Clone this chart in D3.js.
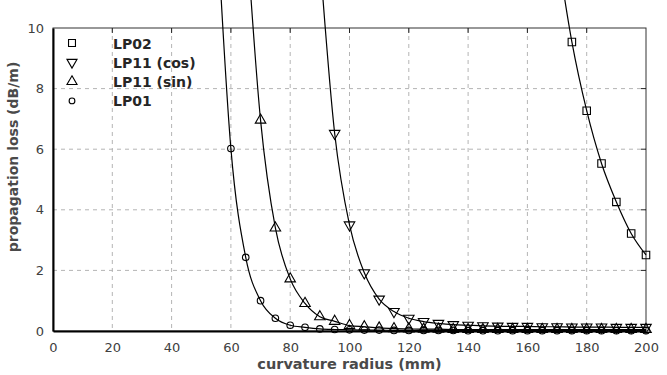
<!DOCTYPE html>
<html>
<head>
<meta charset="utf-8">
<script src="https://cdn.jsdelivr.net/npm/d3@7"></script>
<style>
  body { margin: 0; background: #fff; }
  svg { display: block; }
</style>
</head>
<body>
<div id="chart"></div>
<script>
// data ---------------------------------------------------------------------------------------
const radiusLP02 = [170, 175, 180, 185, 190, 195, 200];
const lossLP02 = [12.6, 9.54, 7.27, 5.53, 4.26, 3.22, 2.51];

const radiusLP11cos = [90, 95, 100, 105, 110, 115, 120, 125, 130, 135, 140, 145, 150, 155, 160, 165, 170, 175, 180, 185, 190, 195, 200];
const lossLP11cos = [12.3, 6.52, 3.50, 1.92, 1.05, 0.64, 0.42, 0.31, 0.25, 0.21, 0.19, 0.17, 0.16, 0.15, 0.15, 0.14, 0.14, 0.13, 0.13, 0.13, 0.12, 0.12, 0.12];

const radiusLP11sin = [65, 70, 75, 80, 85, 90, 95, 100, 105, 110, 115, 120, 125, 130, 135, 140, 145, 150, 155, 160, 165, 170, 175, 180, 185, 190, 195, 200];
const lossLP11sin = [13.5, 6.96, 3.40, 1.72, 0.91, 0.47, 0.32, 0.18, 0.14, 0.10, 0.08, 0.07, 0.06, 0.06, 0.05, 0.05, 0.05, 0.05, 0.05, 0.05, 0.05, 0.05, 0.05, 0.05, 0.05, 0.05, 0.05, 0.05];

const radiusLP01 = [55, 60, 65, 70, 75, 80, 85, 90, 95, 100, 105, 110, 115, 120, 125, 130, 135, 140, 145, 150, 155, 160, 165, 170, 175, 180, 185, 190, 195, 200];
const lossLP01 = [14.0, 6.02, 2.43, 1.00, 0.42, 0.19, 0.12, 0.07, 0.05, 0.04, 0.03, 0.03, 0.02, 0.02, 0.02, 0.02, 0.02, 0.01, 0.01, 0.01, 0.01, 0.01, 0.01, 0.01, 0.01, 0.01, 0.01, 0.01, 0.01, 0.01];

const seriesNames = ['LP02', 'LP11 (cos)', 'LP11 (sin)', 'LP01'];
const seriesMarkers = ['square', 'triDown', 'triUp', 'circle'];
const xTicks = [0, 20, 40, 60, 80, 100, 120, 140, 160, 180, 200];
const yTicks = [0, 2, 4, 6, 8, 10];

// build series -------------------------------------------------------------------------------
const series = [
  { name: seriesNames[0], marker: seriesMarkers[0], pts: radiusLP02.map((r, i) => ({ x: r, y: lossLP02[i] })) },
  { name: seriesNames[1], marker: seriesMarkers[1], pts: radiusLP11cos.map((r, i) => ({ x: r, y: lossLP11cos[i] })) },
  { name: seriesNames[2], marker: seriesMarkers[2], pts: radiusLP11sin.map((r, i) => ({ x: r, y: lossLP11sin[i] })) },
  { name: seriesNames[3], marker: seriesMarkers[3], pts: radiusLP01.map((r, i) => ({ x: r, y: lossLP01[i] })) }
];

// layout -------------------------------------------------------------------------------------
const width = 667;
const height = 375;
const margin = { top: 28, right: 21, bottom: 44, left: 53 };
const innerW = width - margin.left - margin.right;
const innerH = height - margin.top - margin.bottom;

const x = d3.scaleLinear().domain([0, 200]).range([0, innerW]);
const y = d3.scaleLinear().domain([0, 10]).range([innerH, 0]);

const svg = d3.select('#chart').append('svg')
  .attr('width', width)
  .attr('height', height);

const g = svg.append('g')
  .attr('transform', 'translate(' + margin.left + ',' + margin.top + ')');

// grid ---------------------------------------------------------------------------------------
g.append('g')
  .selectAll('line')
  .data(xTicks.slice(1, -1))
  .enter().append('line')
  .attr('x1', d => x(d)).attr('x2', d => x(d))
  .attr('y1', 0).attr('y2', innerH)
  .attr('stroke', '#b4b4b4')
  .attr('stroke-dasharray', '4,4');
g.append('g')
  .selectAll('line')
  .data(yTicks.slice(1, -1))
  .enter().append('line')
  .attr('x1', 0).attr('x2', innerW)
  .attr('y1', d => y(d)).attr('y2', d => y(d))
  .attr('stroke', '#b4b4b4')
  .attr('stroke-dasharray', '4,4');

// frame + axes -------------------------------------------------------------------------------
g.append('rect')
  .attr('width', innerW).attr('height', innerH)
  .attr('fill', 'none')
  .attr('stroke', '#333')
  .attr('stroke-width', 1);

const xAxis = g.append('g')
  .attr('transform', 'translate(0,' + innerH + ')')
  .call(d3.axisBottom(x).tickValues(xTicks).tickSize(0).tickPadding(12));
xAxis.select('.domain').attr('stroke', '#000').attr('stroke-width', 2);
xAxis.selectAll('text')
  .attr('font-family', 'DejaVu Sans, Verdana, sans-serif')
  .attr('font-size', 13)
  .attr('fill', '#404040');

const yAxis = g.append('g')
  .call(d3.axisLeft(y).tickValues(yTicks).tickSize(0).tickPadding(9));
yAxis.select('.domain').attr('stroke', '#000').attr('stroke-width', 2);
yAxis.selectAll('text')
  .attr('font-family', 'DejaVu Sans, Verdana, sans-serif')
  .attr('font-size', 13)
  .attr('fill', '#404040');

// small inner ticks on top and right
g.append('g')
  .selectAll('line')
  .data(xTicks.slice(1, -1))
  .enter().append('line')
  .attr('x1', d => x(d)).attr('x2', d => x(d))
  .attr('y1', 0).attr('y2', 5)
  .attr('stroke', '#222');
g.append('g')
  .selectAll('line')
  .data(yTicks.slice(1, -1))
  .enter().append('line')
  .attr('x1', innerW - 5).attr('x2', innerW)
  .attr('y1', d => y(d)).attr('y2', d => y(d))
  .attr('stroke', '#222');

// markers ------------------------------------------------------------------------------------
const symbolFor = {
  square: d3.symbol().type(d3.symbolSquare).size(56),
  triUp: d3.symbol().type(d3.symbolTriangle).size(48),
  triDown: d3.symbol().type(d3.symbolTriangle).size(48),
  circle: d3.symbol().type(d3.symbolCircle).size(34)
};
const legendSymbol = {
  square: d3.symbol().type(d3.symbolSquare).size(48),
  triUp: d3.symbol().type(d3.symbolTriangle).size(44),
  triDown: d3.symbol().type(d3.symbolTriangle).size(44),
  circle: d3.symbol().type(d3.symbolCircle).size(26)
};
const markerTransform = (m, px, py) =>
  'translate(' + px + ',' + py + ')' + (m === 'triDown' ? ' rotate(180)' : '');

// lines (not clipped at top, like the original) ---------------------------------------------
const line = d3.line()
  .x(d => x(d.x))
  .y(d => y(d.y))
  .curve(d3.curveMonotoneX);

const sg = g.append('g')
  .selectAll('g')
  .data(series)
  .enter().append('g');

sg.append('path')
  .attr('d', d => line(d.pts))
  .attr('fill', 'none')
  .attr('stroke', '#000')
  .attr('stroke-width', 1.2);

sg.each(function (s) {
  d3.select(this).selectAll('path.mk')
    .data(s.pts.filter(p => p.y <= 10))
    .enter().append('path')
    .attr('class', 'mk')
    .attr('d', symbolFor[s.marker])
    .attr('transform', p => markerTransform(s.marker, x(p.x), y(p.y)))
    .attr('fill', 'none')
    .attr('stroke', '#000')
    .attr('stroke-width', 1.1);
});

// legend -------------------------------------------------------------------------------------
const lg = svg.append('g')
  .selectAll('g')
  .data(series)
  .enter().append('g')
  .attr('transform', (d, i) => 'translate(72,' + (43 + 19.3 * i) + ')');
lg.append('path')
  .attr('d', d => legendSymbol[d.marker]())
  .attr('transform', d => d.marker === 'triDown' ? 'rotate(180)' : null)
  .attr('fill', 'none')
  .attr('stroke', '#000')
  .attr('stroke-width', 1.1);
lg.append('text')
  .attr('x', 41)
  .attr('y', 5.5)
  .attr('font-family', 'DejaVu Sans, Verdana, sans-serif')
  .attr('font-weight', 'bold')
  .attr('font-size', 14)
  .attr('fill', '#262626')
  .text(d => d.name);

// axis titles --------------------------------------------------------------------------------
svg.append('text')
  .attr('x', margin.left + innerW / 2)
  .attr('y', 369)
  .attr('text-anchor', 'middle')
  .attr('font-family', 'DejaVu Sans, Verdana, sans-serif')
  .attr('font-weight', 'bold')
  .attr('font-size', 14.5)
  .attr('fill', '#4a4a4a')
  .text('curvature radius (mm)');

svg.append('text')
  .attr('transform', 'translate(18,157) rotate(-90)')
  .attr('text-anchor', 'middle')
  .attr('font-family', 'DejaVu Sans, Verdana, sans-serif')
  .attr('font-weight', 'bold')
  .attr('font-size', 14)
  .attr('fill', '#4a4a4a')
  .text('propagation loss (dB/m)');
</script>
</body>
</html>
